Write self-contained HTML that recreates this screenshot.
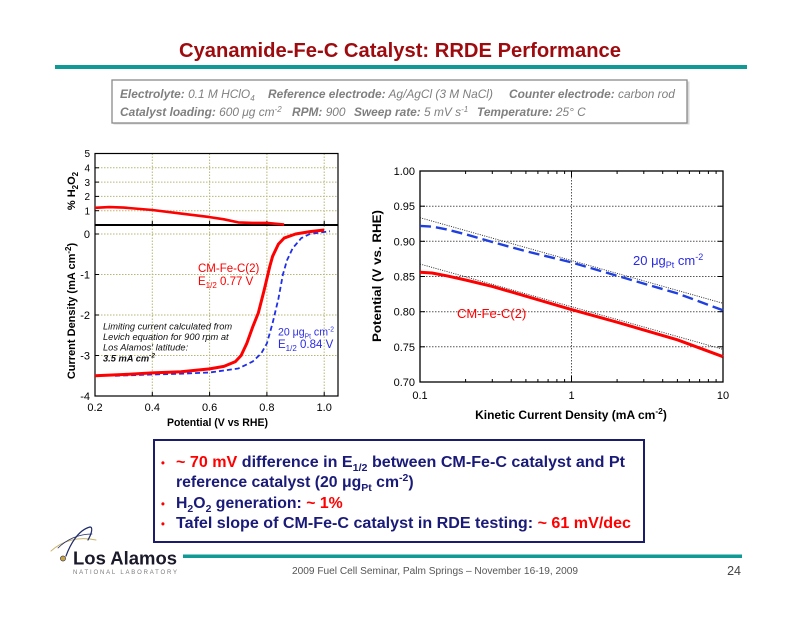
<!DOCTYPE html>
<html><head><meta charset="utf-8"><style>
html,body{margin:0;padding:0;background:#fff;}
svg{display:block;font-family:"Liberation Sans",Arial,sans-serif;}
</style></head><body>
<svg width="800" height="617" viewBox="0 0 800 617" xmlns="http://www.w3.org/2000/svg">
<rect width="800" height="617" fill="#fff"/>

<!-- Title -->
<text x="400" y="57" text-anchor="middle" font-size="20.5" font-weight="bold" fill="#9e0b0f" textLength="442" lengthAdjust="spacingAndGlyphs">Cyanamide-Fe-C Catalyst: RRDE Performance</text>
<rect x="55" y="65" width="692" height="4" fill="#0f9a96"/>

<!-- Info box -->
<rect x="113.5" y="81.5" width="576" height="43" fill="#d8d8d8"/>
<rect x="112" y="80" width="575" height="43" fill="#fff" stroke="#8a8a8a" stroke-width="1.3"/>
<g font-size="11.9" font-style="italic" fill="#7f7f7f">
<text x="120" y="98"><tspan font-weight="bold">Electrolyte:</tspan> 0.1 M HClO<tspan font-size="8" dy="3">4</tspan></text>
<text x="268" y="98"><tspan font-weight="bold">Reference electrode:</tspan> Ag/AgCl (3 M NaCl)</text>
<text x="509" y="98"><tspan font-weight="bold">Counter electrode:</tspan> carbon rod</text>
<text x="120" y="116"><tspan font-weight="bold">Catalyst loading:</tspan> 600 μg cm<tspan font-size="8" dy="-4">-2</tspan></text>
<text x="292" y="116"><tspan font-weight="bold">RPM:</tspan> 900</text>
<text x="354" y="116"><tspan font-weight="bold">Sweep rate:</tspan> 5 mV s<tspan font-size="8" dy="-4">-1</tspan></text>
<text x="477" y="116"><tspan font-weight="bold">Temperature:</tspan> 25° C</text>
</g>

<!-- LEFT CHART -->
<g>
<g stroke="#b7b774" stroke-width="1" stroke-dasharray="1.5,1.5" fill="none">
<line x1="95" y1="210.7" x2="338" y2="210.7"/>
<line x1="95" y1="196.4" x2="338" y2="196.4"/>
<line x1="95" y1="182.1" x2="338" y2="182.1"/>
<line x1="95" y1="167.8" x2="338" y2="167.8"/>
<line x1="95" y1="234" x2="338" y2="234"/>
<line x1="95" y1="274.5" x2="338" y2="274.5"/>
<line x1="95" y1="315" x2="338" y2="315"/>
<line x1="95" y1="355.5" x2="338" y2="355.5"/>
<line x1="152.3" y1="153.5" x2="152.3" y2="396"/>
<line x1="209.6" y1="153.5" x2="209.6" y2="396"/>
<line x1="266.9" y1="153.5" x2="266.9" y2="396"/>
<line x1="324.2" y1="153.5" x2="324.2" y2="396"/>
</g>
<g stroke="#000" stroke-width="1">
<line x1="95" y1="210.7" x2="99" y2="210.7"/><line x1="95" y1="196.4" x2="99" y2="196.4"/>
<line x1="95" y1="182.1" x2="99" y2="182.1"/><line x1="95" y1="167.8" x2="99" y2="167.8"/>
<line x1="95" y1="234" x2="99" y2="234"/><line x1="95" y1="274.5" x2="99" y2="274.5"/>
<line x1="95" y1="315" x2="99" y2="315"/><line x1="95" y1="355.5" x2="99" y2="355.5"/>
<line x1="152.3" y1="396" x2="152.3" y2="392"/><line x1="209.6" y1="396" x2="209.6" y2="392"/>
<line x1="266.9" y1="396" x2="266.9" y2="392"/><line x1="324.2" y1="396" x2="324.2" y2="392"/>
<line x1="152.3" y1="225" x2="152.3" y2="221"/><line x1="209.6" y1="225" x2="209.6" y2="221"/>
<line x1="266.9" y1="225" x2="266.9" y2="221"/><line x1="324.2" y1="225" x2="324.2" y2="221"/>
</g>
<rect x="95" y="153.5" width="243" height="242.5" fill="none" stroke="#000" stroke-width="1.2"/>
<line x1="95" y1="225" x2="338" y2="225" stroke="#000" stroke-width="2"/>

<polyline fill="none" stroke="#ff0000" stroke-width="2.6" stroke-linejoin="round" points="95,207.8 109.3,207.1 123.7,207.6 152.3,210 181,213.6 209.6,217.1 223.9,219.3 238.3,222.4 252.6,222.9 266.9,222.9 284.1,224.6"/>
<polyline fill="none" stroke="#1f2fe6" stroke-width="1.8" stroke-dasharray="5,3" stroke-linejoin="round" points="115.1,375.8 152.3,374.5 181,373.7 209.6,372.5 238.3,368.5 252.6,361.6 261.2,353.5 266.9,343.4 272.6,323.1 278.4,298.8 282.9,274.5 287,260.3 292.7,248.2 301.3,238.1 309.9,234 324.2,232 329.9,231.2"/>
<polyline fill="none" stroke="#ff0000" stroke-width="3" stroke-linejoin="round" points="95,375.8 123.7,374.5 152.3,372.9 181,371.7 209.6,368.9 223.9,366.4 235.4,361.6 241.1,355.5 246.8,343.4 252.6,327.2 258.3,313 264,290.7 266.9,278.6 269.8,266.4 272.6,256.3 278.4,244.1 284.1,238.1 295.6,234 309.9,231.6 324.2,230"/>

<g font-size="10" fill="#000" text-anchor="end">
<text x="90" y="157">5</text><text x="90" y="171.5">4</text><text x="90" y="185.8">3</text>
<text x="90" y="200">2</text><text x="90" y="214.3">1</text>
</g>
<g font-size="11" fill="#000" text-anchor="end">
<text x="90" y="238">0</text><text x="90" y="278.5">-1</text><text x="90" y="319">-2</text>
<text x="90" y="359.5">-3</text><text x="90" y="400">-4</text>
</g>
<g font-size="11" fill="#000" text-anchor="middle">
<text x="95" y="411">0.2</text><text x="152.3" y="411">0.4</text><text x="209.6" y="411">0.6</text>
<text x="266.9" y="411">0.8</text><text x="324.2" y="411">1.0</text>
</g>
<text x="217.5" y="426" font-size="11" font-weight="bold" text-anchor="middle" textLength="101" lengthAdjust="spacingAndGlyphs">Potential (V vs RHE)</text>
<text transform="translate(75,191) rotate(-90)" font-size="11" font-weight="bold" text-anchor="middle">% H<tspan font-size="8" dy="3">2</tspan><tspan dy="-3">O</tspan><tspan font-size="8" dy="3">2</tspan></text>
<text transform="translate(75,311) rotate(-90)" font-size="11" font-weight="bold" text-anchor="middle">Current Density (mA cm<tspan font-size="8" dy="-4">-2</tspan><tspan dy="4">)</tspan></text>

<text x="198" y="272" font-size="11.5" fill="#ff0000">CM-Fe-C(2)</text>
<text x="198" y="285" font-size="11.5" fill="#ff0000">E<tspan font-size="8" dy="3">1/2</tspan><tspan dy="-3"> 0.77 V</tspan></text>
<text x="278" y="335.5" font-size="11" fill="#2a2ae6" textLength="56" lengthAdjust="spacingAndGlyphs">20 μg<tspan font-size="7" dy="3">Pt</tspan><tspan dy="-3"> cm</tspan><tspan font-size="7" dy="-4">-2</tspan></text>
<text x="278" y="348" font-size="11.5" fill="#2a2ae6">E<tspan font-size="8" dy="3">1/2</tspan><tspan dy="-3"> 0.84 V</tspan></text>
<g font-size="9.3" font-style="italic" fill="#111">
<text x="103" y="329.5">Limiting current calculated from</text>
<text x="103" y="340">Levich equation for 900 rpm at</text>
<text x="103" y="350.5">Los Alamos' latitude:</text>
<text x="103" y="361.5" font-weight="bold">3.5 mA cm<tspan font-size="6.5" dy="-4">-2</tspan></text>
</g>
</g>

<!-- RIGHT CHART -->
<g>
<g stroke="#555" stroke-width="1" stroke-dasharray="1.5,1.5" fill="none">
<line x1="420" y1="206.2" x2="723" y2="206.2"/>
<line x1="420" y1="241.3" x2="723" y2="241.3"/>
<line x1="420" y1="276.5" x2="723" y2="276.5"/>
<line x1="420" y1="311.7" x2="723" y2="311.7"/>
<line x1="420" y1="346.8" x2="723" y2="346.8"/>
<line x1="571.5" y1="171" x2="571.5" y2="382"/>
</g>
<g stroke="#000" stroke-width="1">
<line x1="420" y1="206.2" x2="425" y2="206.2"/><line x1="420" y1="241.3" x2="425" y2="241.3"/>
<line x1="420" y1="276.5" x2="425" y2="276.5"/><line x1="420" y1="311.7" x2="425" y2="311.7"/>
<line x1="420" y1="346.8" x2="425" y2="346.8"/>
<line x1="723" y1="206.2" x2="718" y2="206.2"/><line x1="723" y1="241.3" x2="718" y2="241.3"/>
<line x1="723" y1="276.5" x2="718" y2="276.5"/><line x1="723" y1="311.7" x2="718" y2="311.7"/>
<line x1="723" y1="346.8" x2="718" y2="346.8"/>
<line x1="465.6" y1="382" x2="465.6" y2="379"/><line x1="492.3" y1="382" x2="492.3" y2="379"/>
<line x1="511.2" y1="382" x2="511.2" y2="379"/><line x1="525.9" y1="382" x2="525.9" y2="379"/>
<line x1="537.9" y1="382" x2="537.9" y2="379"/><line x1="548.1" y1="382" x2="548.1" y2="379"/>
<line x1="556.9" y1="382" x2="556.9" y2="379"/><line x1="564.6" y1="382" x2="564.6" y2="379"/>
<line x1="571.5" y1="382" x2="571.5" y2="376"/>
<line x1="617.1" y1="382" x2="617.1" y2="379"/><line x1="643.8" y1="382" x2="643.8" y2="379"/>
<line x1="662.7" y1="382" x2="662.7" y2="379"/><line x1="677.4" y1="382" x2="677.4" y2="379"/>
<line x1="689.4" y1="382" x2="689.4" y2="379"/><line x1="699.6" y1="382" x2="699.6" y2="379"/>
<line x1="708.4" y1="382" x2="708.4" y2="379"/><line x1="716.1" y1="382" x2="716.1" y2="379"/>
<line x1="465.6" y1="171" x2="465.6" y2="174"/><line x1="492.3" y1="171" x2="492.3" y2="174"/>
<line x1="511.2" y1="171" x2="511.2" y2="174"/><line x1="525.9" y1="171" x2="525.9" y2="174"/>
<line x1="537.9" y1="171" x2="537.9" y2="174"/><line x1="548.1" y1="171" x2="548.1" y2="174"/>
<line x1="556.9" y1="171" x2="556.9" y2="174"/><line x1="564.6" y1="171" x2="564.6" y2="174"/>
<line x1="571.5" y1="171" x2="571.5" y2="177"/>
<line x1="617.1" y1="171" x2="617.1" y2="174"/><line x1="643.8" y1="171" x2="643.8" y2="174"/>
<line x1="662.7" y1="171" x2="662.7" y2="174"/><line x1="677.4" y1="171" x2="677.4" y2="174"/>
<line x1="689.4" y1="171" x2="689.4" y2="174"/><line x1="699.6" y1="171" x2="699.6" y2="174"/>
<line x1="708.4" y1="171" x2="708.4" y2="174"/><line x1="716.1" y1="171" x2="716.1" y2="174"/>
</g>
<rect x="420" y="171" width="303" height="211" fill="none" stroke="#000" stroke-width="1.3"/>

<line x1="420" y1="217.7" x2="723" y2="303.3" stroke="#222" stroke-width="0.9" stroke-dasharray="1,1.3"/>
<line x1="420" y1="264" x2="723" y2="349.3" stroke="#222" stroke-width="0.9" stroke-dasharray="1,1.3"/>
<polyline fill="none" stroke="#1f3fe0" stroke-width="2.4" stroke-dasharray="11,5" stroke-linejoin="round" points="420,225.9 432,226.6 446.7,229.4 465.6,234.3 492.3,242 525.9,251.2 571.5,262.4 617.1,275.8 677.4,293.4 723,310.3"/>
<polyline fill="none" stroke="#ff0000" stroke-width="3" stroke-linejoin="round" points="420,272.3 432,273 446.7,275.8 465.6,280 492.3,286.4 525.9,296.2 571.5,309.6 617.1,322.2 677.4,339.8 723,356.7"/>

<g font-size="11" fill="#000" text-anchor="end">
<text x="415" y="175">1.00</text><text x="415" y="210.2">0.95</text><text x="415" y="245.3">0.90</text>
<text x="415" y="280.5">0.85</text><text x="415" y="315.7">0.80</text><text x="415" y="350.8">0.75</text>
<text x="415" y="386">0.70</text>
</g>
<g font-size="11" fill="#000" text-anchor="middle">
<text x="420" y="399">0.1</text><text x="571.5" y="399">1</text><text x="723" y="399">10</text>
</g>
<text x="571" y="419" font-size="12" font-weight="bold" text-anchor="middle">Kinetic Current Density (mA cm<tspan font-size="8.5" dy="-5">-2</tspan><tspan dy="5">)</tspan></text>
<text transform="translate(381,276) rotate(-90)" font-size="12" font-weight="bold" text-anchor="middle" textLength="132" lengthAdjust="spacingAndGlyphs">Potential (V vs. RHE)</text>

<text x="633" y="265" font-size="13" fill="#2a2ae6">20 μg<tspan font-size="9" dy="3">Pt</tspan><tspan dy="-3"> cm</tspan><tspan font-size="9" dy="-5">-2</tspan></text>
<text x="457" y="318" font-size="13" fill="#ff0000">CM-Fe-C(2)</text>
</g>

<!-- Bullet box -->
<rect x="154" y="440" width="490" height="102" fill="#fff" stroke="#1c1c6e" stroke-width="2"/>
<g font-size="15.8" font-weight="bold" fill="#1a1a78">
<text x="161" y="466.5" fill="#ff0000" font-size="11">•</text>
<text x="176" y="467" textLength="449" lengthAdjust="spacingAndGlyphs"><tspan fill="#ff0000">~ 70 mV</tspan> difference in E<tspan font-size="10.5" dy="4">1/2</tspan><tspan dy="-4"> between CM-Fe-C catalyst and Pt</tspan></text>
<text x="176" y="487">reference catalyst (20 μg<tspan font-size="10.5" dy="4">Pt</tspan><tspan dy="-4"> cm</tspan><tspan font-size="10.5" dy="-6">-2</tspan><tspan dy="6">)</tspan></text>
<text x="161" y="507.5" fill="#ff0000" font-size="11">•</text>
<text x="176" y="508">H<tspan font-size="10.5" dy="4">2</tspan><tspan dy="-4">O</tspan><tspan font-size="10.5" dy="4">2</tspan><tspan dy="-4"> generation: </tspan><tspan fill="#ff0000">~ 1%</tspan></text>
<text x="161" y="527.5" fill="#ff0000" font-size="11">•</text>
<text x="176" y="528" textLength="455" lengthAdjust="spacingAndGlyphs">Tafel slope of CM-Fe-C catalyst in RDE testing: <tspan fill="#ff0000">~ 61 mV/dec</tspan></text>
</g>

<!-- Footer -->
<rect x="183" y="554.5" width="559" height="3.5" fill="#0f9a96"/>
<g fill="none" stroke-linecap="round">
<path d="M51,551 C62,541 78,536 96,540" stroke="#c9b56a" stroke-width="1"/>
<path d="M66,556 C70,545 78,530 90,527 C93,527 92,533 88,540" stroke="#1e2a6a" stroke-width="1.2"/>
<path d="M58,548 C66,540 78,534 92,534" stroke="#1e2a6a" stroke-width="0.8"/>
</g>
<circle cx="63" cy="558.5" r="2.6" fill="#c8a43a" stroke="#2a2a55" stroke-width="0.6"/>
<text x="73" y="564.5" font-size="18" font-weight="bold" fill="#1a1a2a" textLength="104" lengthAdjust="spacingAndGlyphs">Los Alamos</text>
<text x="73" y="574" font-size="6" fill="#7a7a7a" textLength="104" lengthAdjust="spacing">NATIONAL LABORATORY</text>
<text x="435" y="574" font-size="10" fill="#555" text-anchor="middle" textLength="286" lengthAdjust="spacingAndGlyphs">2009 Fuel Cell Seminar, Palm Springs – November 16-19, 2009</text>
<text x="741" y="575" font-size="12.5" fill="#444" text-anchor="end">24</text>
</svg>
</body></html>
